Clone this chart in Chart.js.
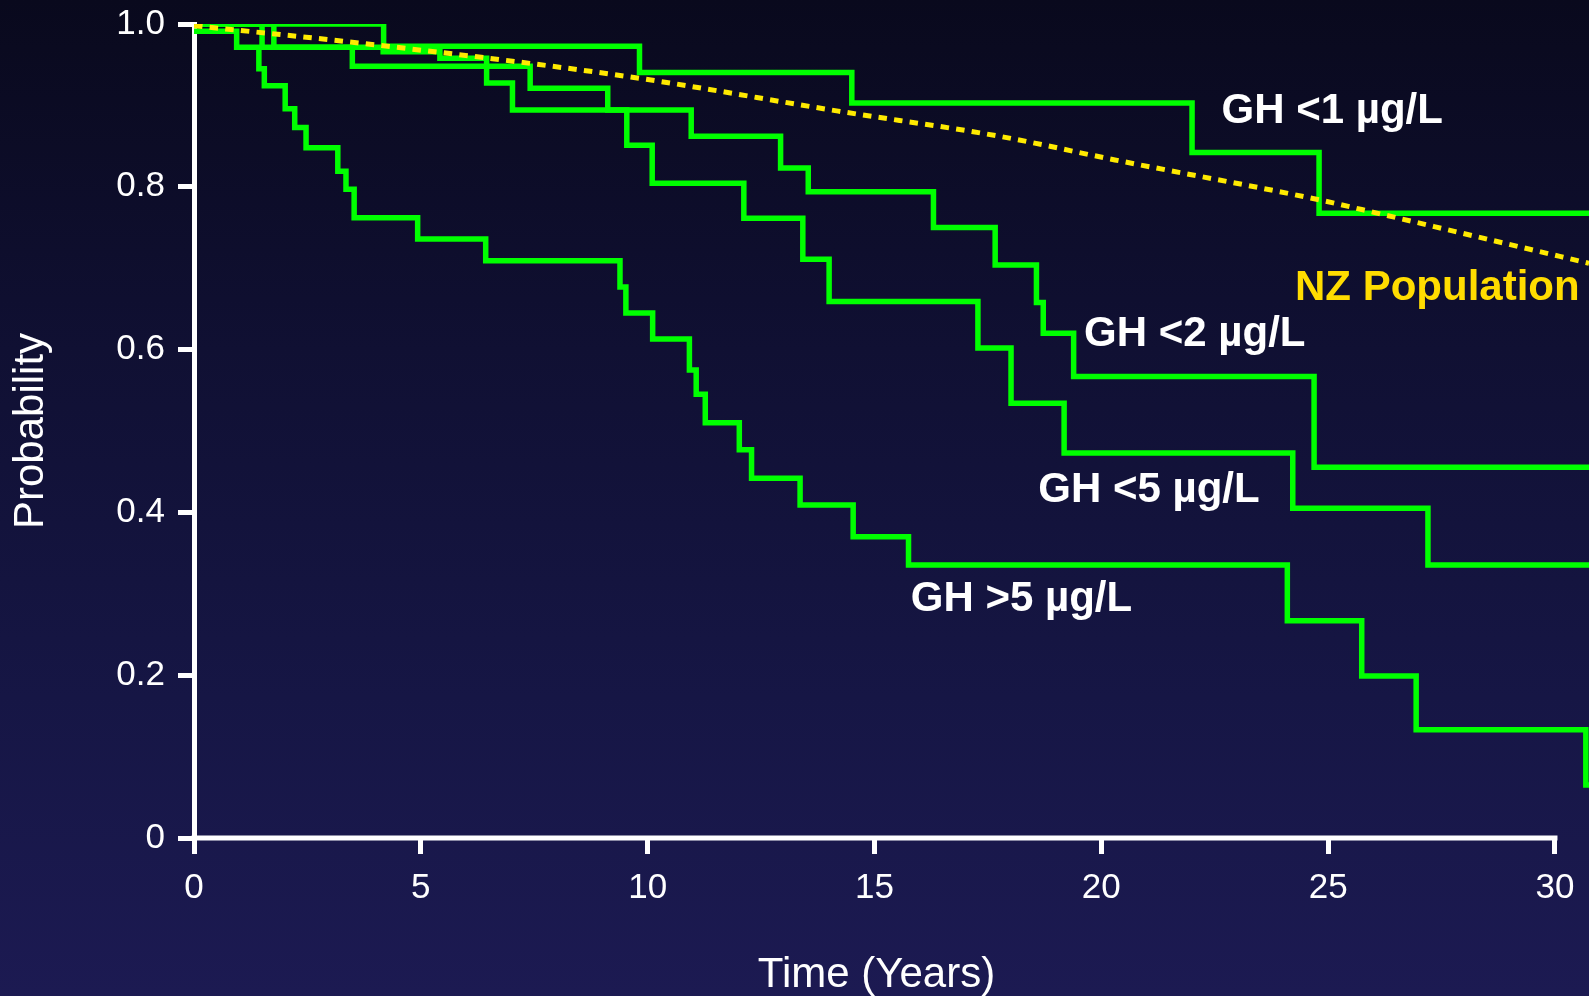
<!DOCTYPE html>
<html><head><meta charset="utf-8">
<script src="https://cdn.jsdelivr.net/npm/chart.js@4.4.1/dist/chart.umd.min.js"></script>
<style>
html,body{margin:0;padding:0;width:1589px;height:996px;overflow:hidden;
background:linear-gradient(180deg,#09091d 0%,#101033 35%,#161645 70%,#1c1a52 100%);}
#wrap{position:relative;width:1589px;height:996px;}
</style></head><body>
<div id="wrap"><canvas id="c"></canvas></div>
<script>
// ---- ticks ----
const xTicks = [0, 5, 10, 15, 20, 25, 30];
const xTickLabels = ['0', '5', '10', '15', '20', '25', '30'];
const yTicks = [0, 0.2, 0.4, 0.6, 0.8, 1.0];
const yTickLabels = ['0', '0.2', '0.4', '0.6', '0.8', '1.0'];
const xEnd = 30.75;

// ---- GH <1 µg/L ----
const gh1Start = 1.0;
const gh1Times = [4.18, 9.82, 14.5, 22.0, 24.8];
const gh1Surv  = [0.9727, 0.9405, 0.903, 0.842, 0.7676];

// ---- GH <2 µg/L ----
const gh2Start = 1.0;
const gh2Times = [1.50, 3.49, 7.41, 9.12, 10.96, 12.93, 13.54, 16.3, 17.66, 18.57, 18.72, 19.39, 24.69];
const gh2Surv  = [0.9715, 0.948, 0.921, 0.8945, 0.862, 0.823, 0.794, 0.750, 0.704, 0.658, 0.620, 0.567, 0.4555];

// ---- GH <5 µg/L ----
const gh5Start = 1.0;
const gh5Times = [1.76, 4.17, 5.42, 6.45, 7.02, 9.54, 10.1, 12.12, 13.42, 14.0, 17.28, 18.01, 19.18, 24.22, 27.2];
const gh5Surv  = [0.9715, 0.966, 0.958, 0.9275, 0.8945, 0.851, 0.8045, 0.7615, 0.711, 0.659, 0.602, 0.534, 0.473, 0.405, 0.3355];

// ---- GH >5 µg/L ----
const ghHighStart = 0.991;
const ghHighTimes = [0.94, 1.43, 1.55, 2.01, 2.22, 2.47, 3.17, 3.35, 3.53, 4.93, 6.43, 9.39, 9.52, 10.11, 10.92, 11.07, 11.27, 12.02, 12.29, 13.36, 14.53, 15.75, 24.1, 25.74, 26.94, 30.68];
const ghHighSurv  = [0.9715, 0.945, 0.924, 0.896, 0.873, 0.848, 0.819, 0.797, 0.762, 0.736, 0.709, 0.677, 0.645, 0.613, 0.575, 0.545, 0.510, 0.477, 0.442, 0.409, 0.370, 0.3355, 0.267, 0.199, 0.133, 0.065];

// ---- NZ population ----
const nzTimes = [0, 4.06, 9.61, 14.2, 17.76, 20.3, 24.8, 26.05, 30.75];
const nzSurv  = [0.998, 0.974, 0.935, 0.893, 0.862, 0.833, 0.784, 0.768, 0.706];

// ---- annotations ----
const labelTexts = ['GH <1 µg/L', 'NZ Population', 'GH <2 µg/L', 'GH <5 µg/L', 'GH >5 µg/L'];
const labelColors = ['#ffffff', '#ffdc00', '#ffffff', '#ffffff', '#ffffff'];
const labelAtX = [22.65, 24.27, 19.62, 18.61, 15.80];
const labelAtY = [0.878, 0.661, 0.604, 0.413, 0.279];

function steps(start, times, surv, end) {
  const pts = [{x: 0, y: start}];
  let prev = start;
  times.forEach((t, i) => {
    pts.push({x: t, y: prev});
    pts.push({x: t, y: surv[i]});
    prev = surv[i];
  });
  if (end > times[times.length - 1]) pts.push({x: end, y: prev});
  return pts;
}

const GREEN = '#00ff00';
const FONT = "'Liberation Sans', Arial, sans-serif";
const AXIS_W = 5;

function greenSet(label, pts) {
  return {label, data: pts, borderColor: GREEN, borderWidth: 5.5, pointRadius: 0,
          borderJoinStyle: 'miter', borderCapStyle: 'butt', tension: 0, fill: false, order: 2};
}

const overlay = {
  id: 'overlay',
  afterDraw(chart) {
    const {ctx, scales: {x, y}} = chart;
    ctx.save();
    // x axis line (0..30)
    ctx.strokeStyle = '#ffffff';
    ctx.lineWidth = AXIS_W;
    ctx.beginPath();
    const y0 = y.getPixelForValue(0);
    ctx.moveTo(x.getPixelForValue(0) - 2.5, y0);
    ctx.lineTo(x.getPixelForValue(30) + 2.5, y0);
    ctx.stroke();
    // x title
    ctx.fillStyle = '#ffffff';
    ctx.font = '42px ' + FONT;
    ctx.textAlign = 'center';
    ctx.textBaseline = 'alphabetic';
    ctx.fillText('Time (Years)', (x.getPixelForValue(0) + x.getPixelForValue(30)) / 2 + 2, 987);
    // curve labels
    ctx.font = 'bold 42px ' + FONT;
    ctx.textAlign = 'left';
    labelTexts.forEach((t, i) => {
      ctx.fillStyle = labelColors[i];
      ctx.fillText(t, x.getPixelForValue(labelAtX[i]), y.getPixelForValue(labelAtY[i]));
    });
    ctx.restore();
  }
};

new Chart(document.getElementById('c'), {
  type: 'line',
  data: {
    datasets: [
      {label: 'NZ Population', data: nzTimes.map((t, i) => ({x: t, y: nzSurv[i]})),
       borderColor: '#ffea00', borderWidth: 5, borderDash: [8.5, 7.2], pointRadius: 0,
       cubicInterpolationMode: 'monotone', fill: false, order: 1},
      greenSet('GH <1 µg/L', steps(gh1Start, gh1Times, gh1Surv, xEnd)),
      greenSet('GH <2 µg/L', steps(gh2Start, gh2Times, gh2Surv, xEnd)),
      greenSet('GH <5 µg/L', steps(gh5Start, gh5Times, gh5Surv, xEnd)),
      greenSet('GH >5 µg/L', steps(ghHighStart, ghHighTimes, ghHighSurv, xEnd))
    ]
  },
  options: {
    responsive: true, maintainAspectRatio: false, animation: false, devicePixelRatio: 1,
    layout: {padding: {top: 24, left: 0, right: 0, bottom: 0}},
    plugins: {legend: {display: false}, tooltip: {enabled: false}},
    scales: {
      x: {
        type: 'linear', min: 0, max: xEnd, bounds: 'data',
        afterBuildTicks: s => { s.ticks = xTicks.map(v => ({value: v})); },
        afterFit: s => { s.height = 158; },
        ticks: {color: '#ffffff', font: {family: FONT, size: 35, lineHeight: 1.2}, padding: 13,
                maxRotation: 0, autoSkip: false,
                callback: v => { const i = xTicks.indexOf(v); return i >= 0 ? xTickLabels[i] : ''; }},
        grid: {drawOnChartArea: false, drawTicks: true, tickLength: 16, color: '#ffffff', lineWidth: AXIS_W},
        border: {display: false}
      },
      y: {
        type: 'linear', min: 0, max: 1, bounds: 'data',
        afterBuildTicks: s => { s.ticks = yTicks.map(v => ({value: v})); },
        afterFit: s => { s.width = 194; },
        ticks: {color: '#ffffff', font: {family: FONT, size: 35, lineHeight: 0.6}, padding: 13,
                autoSkip: false,
                callback: v => { const i = yTicks.indexOf(v); return i >= 0 ? yTickLabels[i] : ''; }},
        grid: {drawOnChartArea: false, drawTicks: true, tickLength: 16, color: '#ffffff', lineWidth: AXIS_W},
        border: {display: true, color: '#ffffff', width: AXIS_W},
        title: {display: true, text: 'Probability', color: '#ffffff',
                font: {family: FONT, size: 42, lineHeight: 1}, padding: {top: 10, bottom: 0}}
      }
    }
  },
  plugins: [overlay]
});
</script>
</body></html>
